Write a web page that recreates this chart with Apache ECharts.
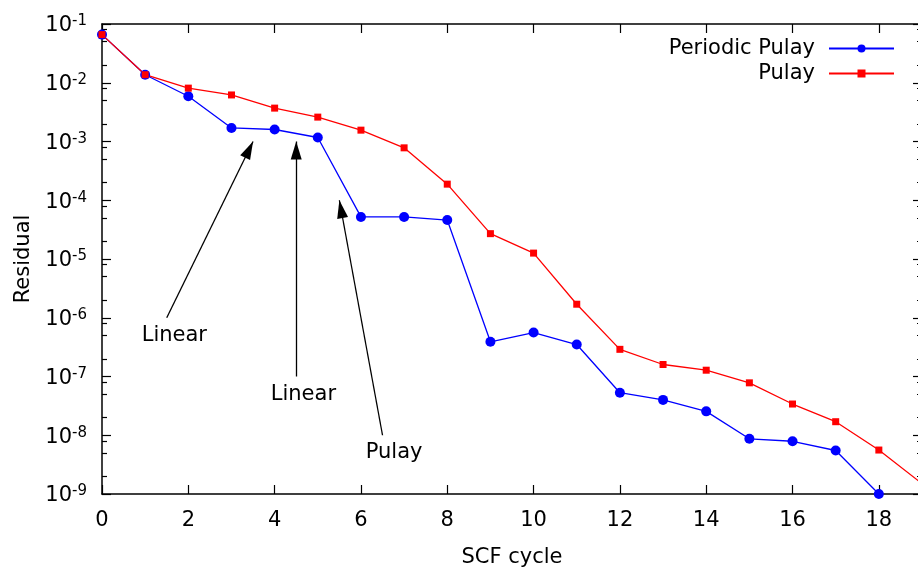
<!DOCTYPE html>
<html>
<head>
<meta charset="utf-8">
<script src="https://cdn.jsdelivr.net/npm/echarts@6/dist/echarts.min.js"></script>
<style>
html,body{margin:0;padding:0;background:#fff;}
#chart{width:918px;height:568px;}
</style>
</head>
<body>
<div id="chart"></div>
<script>
// ---- data ----
const cycles = [0,1,2,3,4,5,6,7,8,9,10,11,12,13,14,15,16,17,18,19];
const periodicPulay = [0.066, 0.0137, 0.0059, 0.0017, 0.0016, 0.00117, 5.2e-5, 5.2e-5, 4.6e-5, 3.9e-7, 5.6e-7, 3.5e-7, 5.3e-8, 4.0e-8, 2.55e-8, 8.7e-9, 7.9e-9, 5.5e-9, 1.0e-9];
const pulay = [0.066, 0.0137, 0.0081, 0.0062, 0.0037, 0.0026, 0.00156, 7.8e-4, 1.88e-4, 2.7e-5, 1.26e-5, 1.7e-6, 2.9e-7, 1.6e-7, 1.28e-7, 7.8e-8, 3.4e-8, 1.7e-8, 5.6e-9, 1.5e-9];
const yMajorTicks = [1e-9, 1e-8, 1e-7, 1e-6, 1e-5, 1e-4, 1e-3, 1e-2, 1e-1];
const yMinorMultipliers = [2, 5, 8];
const annotationLabels = ['Linear', 'Linear', 'Pulay'];
const annotationX = [0.92, 3.91, 6.11];
const annotationY = [5e-7, 5e-8, 5e-9];
const arrowFrom = [[1.5, 1e-6], [4.5, 1e-7], [6.5, 1e-8]];
const arrowTo = [[3.5, 1e-3], [4.5, 1e-3], [5.5, 1e-4]];

const yMinorTicks = [];
yMajorTicks.slice(0, -1).forEach(d => yMinorMultipliers.forEach(m => yMinorTicks.push(m * d)));

const FONT = 'DejaVu Sans';
const chart = echarts.init(document.getElementById('chart'), null, {renderer: 'canvas'});

function expLabel(v) {
  const e = (v > 0) ? Math.round(Math.log10(v)) : Math.round(v);
  return '{b|10}{s|' + e + '}';
}

const axisLineStyle = {color: '#000', width: 1.5};
const tickStyle = {color: '#000', width: 1.2};

const yBase = {type: 'log', logBase: 10, min: 1e-9, max: 1e-1, splitLine: {show: false}, minorTick: {show: false}};

const option = {
  animation: false,
  backgroundColor: '#fff',
  textStyle: {fontFamily: FONT},
  grid: {left: 102, top: 24, right: -4, bottom: 74, containLabel: false, outerBoundsMode: 'none'},
  legend: {
    orient: 'vertical', right: 18, top: 33, align: 'right',
    itemWidth: 65, itemHeight: 10, itemGap: 4,
    data: ['Periodic Pulay', 'Pulay'],
    textStyle: {fontFamily: FONT, fontSize: 21, color: '#000', lineHeight: 21, padding: [0, 9, 0, 0]}
  },
  xAxis: [
    {
      type: 'value', position: 'bottom', min: 0, max: 19, interval: 2,
      name: 'SCF cycle', nameLocation: 'middle', nameGap: 53,
      nameTextStyle: {fontFamily: FONT, fontSize: 21, color: '#000'},
      axisLine: {show: true, lineStyle: axisLineStyle},
      axisTick: {show: true, inside: true, length: 9, lineStyle: tickStyle},
      axisLabel: {fontFamily: FONT, fontSize: 21, color: '#000', margin: 16, showMaxLabel: false},
      splitLine: {show: false}
    },
    {
      type: 'value', position: 'top', min: 0, max: 19, interval: 2,
      axisLine: {show: true, lineStyle: axisLineStyle},
      axisTick: {show: true, inside: true, length: 9, lineStyle: tickStyle},
      axisLabel: {show: false},
      splitLine: {show: false}
    }
  ],
  yAxis: [
    Object.assign({}, yBase, {
      position: 'left',
      name: 'Residual', nameLocation: 'middle', nameGap: 68,
      nameTextStyle: {fontFamily: FONT, fontSize: 21, color: '#000'},
      axisLine: {show: true, lineStyle: axisLineStyle},
      axisTick: {show: true, inside: true, length: 9, lineStyle: tickStyle, customValues: yMajorTicks},
      axisLabel: {
        show: true, margin: 15, customValues: yMajorTicks, formatter: expLabel,
        padding: [4, 0, 0, 0],
        rich: {
          b: {fontFamily: FONT, fontSize: 21, color: '#000'},
          s: {fontFamily: FONT, fontSize: 15, color: '#000', padding: [0, 0, 9, 0]}
        }
      }
    }),
    Object.assign({}, yBase, {
      position: 'left',
      axisLine: {show: false},
      axisTick: {show: true, inside: true, length: 5, lineStyle: tickStyle, customValues: yMinorTicks},
      axisLabel: {show: false}
    }),
    Object.assign({}, yBase, {
      position: 'right',
      axisLine: {show: true, lineStyle: axisLineStyle},
      axisTick: {show: true, inside: true, length: 9, lineStyle: tickStyle, customValues: yMajorTicks},
      axisLabel: {show: false}
    }),
    Object.assign({}, yBase, {
      position: 'right',
      axisLine: {show: false},
      axisTick: {show: true, inside: true, length: 5, lineStyle: tickStyle, customValues: yMinorTicks},
      axisLabel: {show: false}
    })
  ],
  series: [
    {
      name: 'Periodic Pulay', type: 'line', xAxisIndex: 0, yAxisIndex: 0,
      data: periodicPulay.map((v, i) => [cycles[i], v]),
      symbol: 'circle', symbolSize: 10, clip: false,
      lineStyle: {color: '#0000ff', width: 1.3},
      itemStyle: {color: '#0000ff'},
      emphasis: {disabled: true}
    },
    {
      name: 'Pulay', type: 'line', xAxisIndex: 0, yAxisIndex: 0,
      data: pulay.map((v, i) => [cycles[i], v]),
      symbol: 'rect', symbolSize: 7, clip: false,
      lineStyle: {color: '#ff0000', width: 1.3},
      itemStyle: {color: '#ff0000'},
      emphasis: {disabled: true}
    },
    {
      name: 'annotations', type: 'scatter', xAxisIndex: 0, yAxisIndex: 0,
      data: annotationLabels.map((t, i) => ({name: t, value: [annotationX[i], annotationY[i]]})),
      symbolSize: 0, silent: true,
      itemStyle: {opacity: 1, color: '#000'},
      label: {show: true, position: 'right', distance: 0, formatter: p => p.name,
        padding: [4, 0, 0, 0],
        fontFamily: FONT, fontSize: 21, color: '#000', opacity: 1},
      markLine: {
        silent: true, animation: false,
        symbol: ['none', 'triangle'],
        lineStyle: {color: '#000', width: 1.3, type: 'solid', opacity: 1},
        itemStyle: {color: '#000', opacity: 1},
        label: {show: false},
        emphasis: {disabled: true},
        data: arrowFrom.map((f, i) => [
          {coord: f, symbol: 'none'},
          {coord: arrowTo[i], symbol: 'triangle', symbolSize: [11, 18], symbolOffset: [0, 9]}
        ])
      }
    }
  ]
};
chart.setOption(option);
</script>
</body>
</html>
